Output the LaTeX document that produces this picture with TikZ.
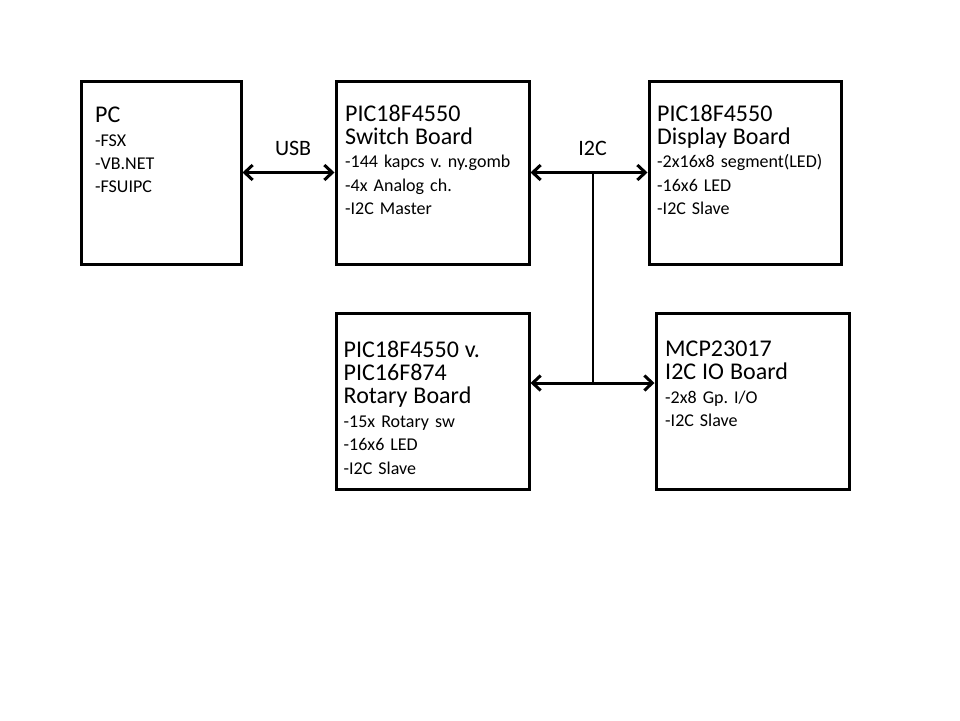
\documentclass[tikz,border=0pt]{standalone}
\usepackage{fontspec}
\setmainfont{Carlito}
\usepackage{tikz}
\usetikzlibrary{arrows.meta}
\newcommand{\bdtitle}[1]{{\fontsize{24}{23.4}\selectfont #1}}
\frenchspacing

\begin{document}
\begin{tikzpicture}[
      x=1pt, y=-1pt,
      box/.style={rectangle, draw, line width=3pt, inner sep=0pt},
      boxtext/.style={anchor=north west, inner sep=0pt, text width=185pt, align=left, font=\fontsize{18}{23.4}\selectfont},
      biarrow/.style={{Straight Barb[length=8pt,width=15pt]}-{Straight Barb[length=8pt,width=15pt]}, line width=3pt},
      bus/.style={line width=2.6pt},
      buslabel/.style={anchor=base, inner sep=0pt, yshift=17.5pt, font=\fontsize{22}{26}\selectfont}
    ]
      \useasboundingbox (0,0) rectangle (960,720);

      % Boards
      \node[box, minimum width=160pt, minimum height=183pt] (pc) at (161,172.5) {};
      \node[box, minimum width=193pt, minimum height=183pt] (switchb) at (432.5,172.5) {};
      \node[box, minimum width=192pt, minimum height=183pt] (display) at (745,172.5) {};
      \node[box, minimum width=193pt, minimum height=176pt] (rotary) at (432.5,401) {};
      \node[box, minimum width=193pt, minimum height=176pt] (ioboard) at (752.5,401) {};

      % Texts
      \node[boxtext] (pctext) at (95,107) {\bdtitle{PC}\\-FSX\\-VB.NET\\-FSUIPC};
      \node[boxtext] (switchtext) at (345,104.5) {\bdtitle{PIC18F4550\\Switch Board}\\-144 kapcs v. ny.gomb\\-4x Analog ch.\\-I2C Master};
      \node[boxtext] (displaytext) at (657,104.5) {\bdtitle{PIC18F4550\\Display Board}\\-2x16x8 segment(LED)\\-16x6 LED\\-I2C Slave};
      \node[boxtext] (rotarytext) at (343.5,340.5) {\bdtitle{PIC18F4550 v.\\PIC16F874\\Rotary Board}\\-15x Rotary sw\\-16x6 LED\\-I2C Slave};
      \node[boxtext] (iotext) at (665,340.5) {\bdtitle{MCP23017\\I2C IO Board}\\-2x8 Gp. I/O\\-I2C Slave};

      % I2C bus
      \coordinate (bustop) at (593,172.5);
      \coordinate (busbot) at (593,383);
      \draw[bus] (bustop) -- (busbot);

      % Arrows
      \draw[biarrow] (pc.east) -- node[buslabel, pos=0.55] (usb) {USB} (switchb.west);
      \draw[biarrow] (switchb.east) -- node[buslabel, pos=0.53] (i2c) {I2C} (display.west);
      \draw[biarrow] (rotary.east |- busbot) -- (ioboard.west |- busbot);

    \end{tikzpicture}
\end{document}
